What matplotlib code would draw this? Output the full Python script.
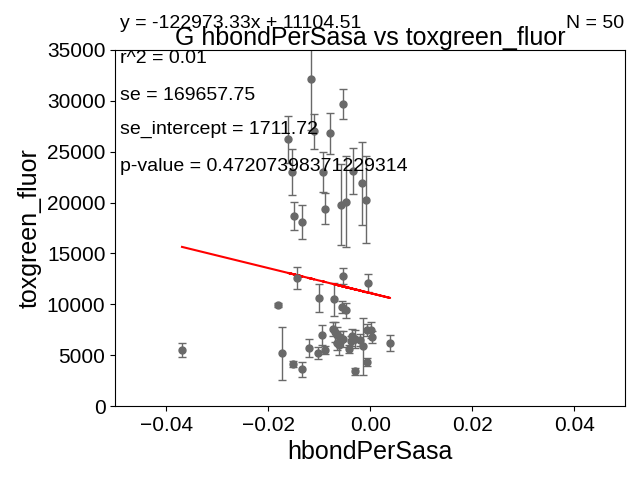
import numpy as np
import matplotlib.pyplot as plt

plt.rcParams['font.family'] = ['Liberation Sans', 'DejaVu Sans']

x = [-0.0369, -0.0180, -0.0173, -0.0152, -0.0133, -0.0161, -0.0154, -0.0149, -0.0133, -0.0143,
     -0.0116, -0.0110, -0.0121, -0.0102, -0.0100, -0.0094, -0.0088, -0.0092, -0.0088, -0.0078,
     -0.0071, -0.0069, -0.0065, -0.0061, -0.0055, -0.0047, -0.0053, -0.0053, -0.0057, -0.0047,
     -0.0053, -0.0041, -0.0035, -0.0029, -0.0029, -0.0033, -0.0014, -0.0016, -0.0008, -0.0006,
     -0.0004, -0.0006, 0.0002, 0.0004, 0.0039, -0.0073, -0.0059, -0.0037, -0.0066, -0.0020]
y = [5500, 9950, 5200, 4100, 3600, 26200, 23000, 18700, 18100, 12600,
     32100, 27000, 5700, 5200, 10600, 7000, 5500, 23000, 19400, 26800,
     10500, 7300, 7000, 6000, 9700, 9400, 12800, 29700, 19800, 20100,
     6600, 5600, 6900, 6600, 3400, 23100, 5900, 21900, 20300, 4300,
     12100, 7500, 7500, 6800, 6200, 7600, 6800, 6400, 6200, 6500]
err = [700, 200, 2600, 300, 700, 2300, 2300, 1400, 1700, 1100,
       5000, 1700, 900, 600, 1400, 1000, 400, 2000, 1500, 2000,
       1600, 1000, 800, 1000, 600, 700, 800, 1500, 4000, 4500,
       800, 400, 700, 900, 300, 2300, 2800, 4100, 4300, 400,
       900, 600, 800, 600, 800, 700, 600, 500, 700, 600]
slope = -122973.33
intercept = 11104.51

fig = plt.figure(figsize=(6.4, 4.8), dpi=100)
ax = fig.add_axes([0.18, 0.154, 0.797, 0.742])
ax.errorbar(x, y, yerr=err, fmt='o', color='dimgray', ecolor='dimgray',
            markersize=5, capsize=3, elinewidth=1)
xs = np.array(x)
ax.plot(xs, slope * xs + intercept, color='red', lw=1.5)
ax.set_xlim(-0.05, 0.05)
ax.set_ylim(0, 35000)
ax.set_xticks([-0.04, -0.02, 0.0, 0.02, 0.04])
ax.tick_params(labelsize=15)
ax.set_xlabel('hbondPerSasa', fontsize=18)
ax.set_ylabel('toxgreen_fluor', fontsize=18)
ax.set_title('G hbondPerSasa vs toxgreen_fluor', fontsize=18, pad=2)

fs = 14
fig.text(0.187, 0.950, 'y = -122973.33x + 11104.51', fontsize=fs, va='center')
fig.text(0.975, 0.950, 'N = 50', fontsize=fs, va='center', ha='right')
fig.text(0.187, 0.878, 'r^2 = 0.01', fontsize=fs, va='center')
fig.text(0.187, 0.802, 'se = 169657.75', fontsize=fs, va='center')
fig.text(0.187, 0.730, 'se_intercept = 1711.72', fontsize=fs, va='center')
fig.text(0.187, 0.654, 'p-value = 0.47207398371229314', fontsize=fs, va='center')

fig.savefig('out.png')
